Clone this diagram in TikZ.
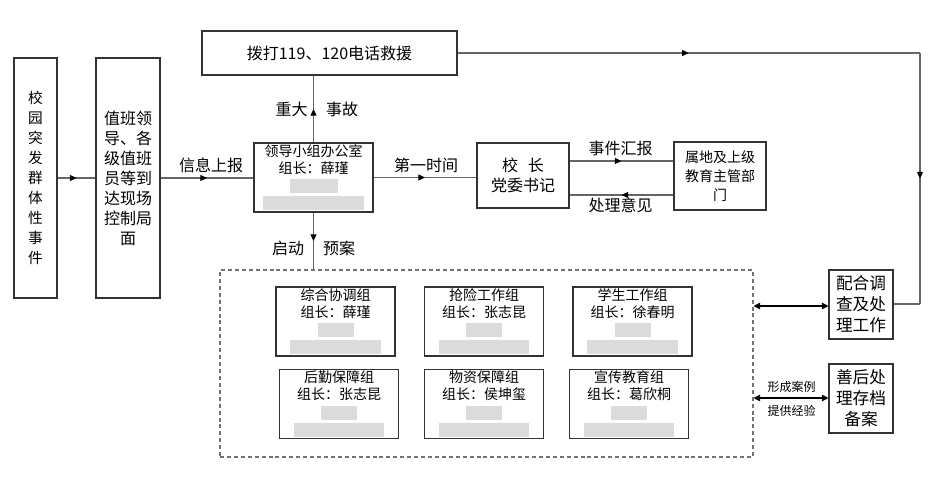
\documentclass[tikz,border=0pt]{standalone}
\usepackage{fontspec}
\setmainfont{Noto Sans CJK SC}
\usetikzlibrary{arrows.meta,decorations.markings}
\newcommand\blurbar[1]{{\color{black!14}\rule[-0.2em]{#1}{1em}}}

\begin{document}
\begin{tikzpicture}[x=0.75pt,y=-0.75pt,
  box/.style={draw=black!80,line width=0.8pt,align=center,inner sep=0pt},
  link/.style={draw=black!60,line width=0.9pt},
  midarrow/.style={link,postaction={decorate},decoration={markings,mark=at position 0.5 with {\arrow[black]{Triangle[length=5pt,width=4.5pt]}}}},
  twoway/.style={draw=black,line width=0.8pt,{Triangle[length=5pt,width=5pt]}-{Triangle[length=5pt,width=5pt]}},
  tag/.style={font=\fontsize{12}{14}\selectfont,inner sep=0pt},
  small/.style={font=\fontsize{9}{10}\selectfont,inner sep=0pt},
  grp/.style={box,minimum width=89.25pt,minimum height=51.75pt,font=\fontsize{10.5}{12.8}\selectfont}]
\useasboundingbox (0,0) rectangle (940,478);

\node[box,minimum width=32.25pt,minimum height=180pt,font=\fontsize{11}{15}\selectfont] (event) at (35.5,178) {校\\园\\突\\发\\群\\体\\性\\事\\件};
\node[box,minimum width=48pt,minimum height=180pt,font=\fontsize{12}{15}\selectfont] (duty) at (128,178) {值班领\\导、各\\级值班\\员等到\\达现场\\控制局\\面};
\node[box,minimum width=191.25pt,minimum height=33pt,font=\fontsize{12}{14}\selectfont] (rescue) at (329.5,53) {拨打119、120电话救援};
\node[grp] (office) at (313.5,177.5) {领导小组办公室\\组长：薛瑾\\\blurbar{36pt}\\\blurbar{76pt}};
\node[box,minimum width=69pt,minimum height=48.75pt,font=\fontsize{12}{15.5}\selectfont] (head) at (523,175.5) {校\hspace{0.6em}长\\党委书记};
\node[box,minimum width=69pt,minimum height=51pt,font=\fontsize{10.5}{14.25}\selectfont] (upper) at (720,176) {属地及上级\\教育主管部\\门};
\node[box,draw=black!55,dashed,dash pattern=on 3pt off 2.2pt,minimum width=399.75pt,minimum height=140.25pt] (plan) at (486.5,363.5) {};
\node[box,minimum width=48pt,minimum height=51.75pt,font=\fontsize{12.5}{15.75}\selectfont] (coop) at (861,304.5) {配合调\\查及处\\理工作};
\node[box,minimum width=48pt,minimum height=51.75pt,font=\fontsize{12.5}{15.75}\selectfont] (after) at (861,398.5) {善后处\\理存档\\备案};

\node[grp] (coord) at (335.5,321.5) {综合协调组\\组长：薛瑾\\\blurbar{27pt}\\\blurbar{68pt}};
\node[grp] (rescueteam) at (484,321.5) {抢险工作组\\组长：张志昆\\\blurbar{27pt}\\\blurbar{68pt}};
\node[grp] (student) at (632.5,321.5) {学生工作组\\组长：徐春明\\\blurbar{27pt}\\\blurbar{68pt}};
\node[grp] (logistic) at (339,404) {后勤保障组\\组长：张志昆\\\blurbar{27pt}\\\blurbar{68pt}};
\node[grp] (supply) at (484,404) {物资保障组\\组长：侯坤玺\\\blurbar{27pt}\\\blurbar{68pt}};
\node[grp] (publicity) at (629,404) {宣传教育组\\组长：葛欣桐\\\blurbar{27pt}\\\blurbar{68pt}};

\coordinate (report) at (0,161);
\coordinate (advice) at (0,195);
\coordinate (turnA) at (920,53);
\coordinate (turnB) at (920,304);
\coordinate (coopline) at (0,306);
\coordinate (caseline) at (0,398);

\draw[midarrow] (event) -- (duty);
\draw[midarrow] (duty.east) -- (duty.east -| office.west);
\draw[midarrow] (office.north) -- (office.north |- rescue.south);
\draw[midarrow] (office.south) -- (office.south |- plan.north);
\draw[midarrow] (office.east) -- (office.east -| head.west);
\draw[midarrow] (head.east |- report) -- (upper.west |- report);
\draw[midarrow] (upper.west |- advice) -- (head.east |- advice);
\draw[midarrow] (rescue.east) -- (turnA);
\draw[midarrow] (turnA) -- (turnB);
\draw[link] (turnB) -- (coop.east |- turnB);
\draw[twoway] (plan.east |- coopline) -- (coop.west |- coopline);
\draw[twoway] (plan.east |- caseline) -- (after.west |- caseline);

\node[tag] (info) at (211,165) {信息上报};
\node[tag] (major) at (291.5,109) {重大};
\node[tag] (accident) at (342,109) {事故};
\node[tag] (start) at (288,248) {启动};
\node[tag] (scheme) at (339,248) {预案};
\node[tag] (first) at (426,165) {第一时间};
\node[tag] (toupper) at (620.5,148) {事件汇报};
\node[tag] (tohead) at (620.5,205) {处理意见};
\node[small] (cases) at (791.5,387) {形成案例};
\node[small] (lessons) at (791.5,411) {提供经验};
\end{tikzpicture}
\end{document}
